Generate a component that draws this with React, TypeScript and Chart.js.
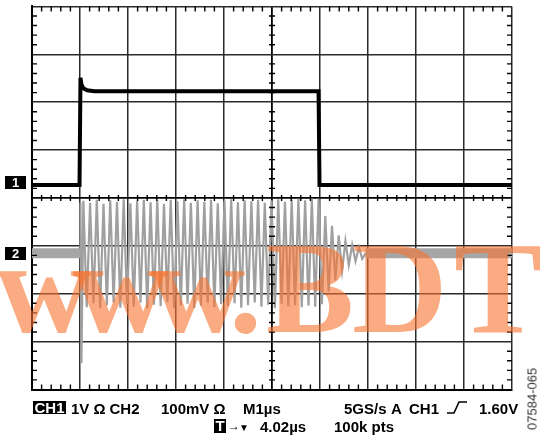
import React, { useEffect, useRef } from "react";
import { Chart, registerables } from "chart.js";

Chart.register(...registerables);

// ---- data (time in µs relative to screen centre, amplitude in divisions) ----
const ch1Times = [-5, -4.01, -3.99, -3.97, -3.93, -3.85, -3.7, 0.97, 0.99, 5];
const ch1Values = [0.27, 0.27, 2.51, 2.37, 2.29, 2.25, 2.23, 2.23, 0.27, 0.27];

const ch2Baseline = -1.155;
const ch2PreTimes = [-5, -4.0];
const ch2PostTimes = [1.95, 5];

const ch2StartTimes = [-4.0, -3.99, -3.97];
const ch2StartValues = [-1.155, -0.1, -3.45];

const ch2HighTimes = [-3.93, -3.79, -3.65, -3.51, -3.37, -3.23, -3.09, -2.95, -2.81, -2.67, -2.53, -2.39, -2.25, -2.11, -1.97, -1.83, -1.69, -1.55, -1.41, -1.27, -1.13, -0.99, -0.85, -0.71, -0.57, -0.43, -0.29, -0.15, -0.01, 0.13, 0.27, 0.41, 0.55, 0.69, 0.83, 0.97];
const ch2HighValues = [-0.06, -0.1, -0.04, -0.12, -0.05, -0.08, -0.03, -0.11, -0.06, -0.04, -0.09, -0.05, -0.12, -0.04, -0.07, -0.03, -0.1, -0.05, -0.08, -0.04, -0.11, -0.06, -0.03, -0.09, -0.05, -0.07, -0.04, -0.1, -0.05, -0.03, -0.08, -0.04, -0.02, -0.05, -0.01, -0.02];
const ch2LowTimes = [-3.86, -3.72, -3.58, -3.44, -3.3, -3.16, -3.02, -2.88, -2.74, -2.6, -2.46, -2.32, -2.18, -2.04, -1.9, -1.76, -1.62, -1.48, -1.34, -1.2, -1.06, -0.92, -0.78, -0.64, -0.5, -0.36, -0.22, -0.08, 0.06, 0.2, 0.34, 0.48, 0.62, 0.76, 0.9];
const ch2LowValues = [-2.28, -2.2, -2.3, -2.24, -2.18, -2.29, -2.22, -2.27, -2.19, -2.31, -2.23, -2.26, -2.17, -2.29, -2.24, -2.21, -2.3, -2.25, -2.19, -2.28, -2.22, -2.26, -2.2, -2.29, -2.24, -2.18, -2.27, -2.23, -2.3, -2.21, -2.26, -2.24, -2.28, -2.25, -2.27];

const ch2RingTimes = [1.04, 1.11, 1.18, 1.25, 1.32, 1.39, 1.46, 1.53, 1.6, 1.67, 1.74, 1.81, 1.88, 1.95];
const ch2RingValues = [-2.22, -0.38, -1.95, -0.58, -1.72, -0.78, -1.52, -0.9, -1.4, -0.98, -1.32, -1.03, -1.27, -1.155];

// graticule: 10 x 8 divisions, 5 minor ticks per division
const xMin = -5;
const xMax = 5;
const yMin = -4;
const yMax = 4;
const minorPerDiv = 5;

const pts = (t: number[], v: number[]) => t.map((x, i) => ({ x, y: v[i] }));

function buildBurst() {
  const mid = [...pts(ch2HighTimes, ch2HighValues), ...pts(ch2LowTimes, ch2LowValues)].sort((a, b) => a.x - b.x);
  return [...pts(ch2StartTimes, ch2StartValues), ...mid, ...pts(ch2RingTimes, ch2RingValues)];
}

function minorSteps(lo: number, hi: number) {
  const out: number[] = [];
  for (let i = lo * minorPerDiv; i <= hi * minorPerDiv; i++) {
    if (i % minorPerDiv !== 0) out.push(i / minorPerDiv);
  }
  return out;
}

function tickSet(data: { x: number; y: number }[], radius: number, rotation: number) {
  return {
    label: "graticule",
    data,
    showLine: false,
    pointStyle: "line",
    pointRadius: radius,
    pointRotation: rotation,
    pointBorderColor: "#000",
    pointBorderWidth: 1.4,
    borderColor: "#000",
    clip: 0,
  };
}

const watermarkPlugin = {
  id: "watermark",
  afterDraw(chart: any) {
    const ctx = chart.ctx;
    const chars = ["w", "w", "w", ".", "B", "D", "T"];
    const xs = [-4, 73, 150, 229, 266, 352, 454];
    ctx.save();
    ctx.font = 'bold 132px "Liberation Serif", "Times New Roman", serif';
    ctx.fillStyle = "rgba(248,115,45,0.6)";
    ctx.textBaseline = "alphabetic";
    chars.forEach((c, i) => ctx.fillText(c, xs[i], 332));
    ctx.restore();
  },
};

const font = '"Liberation Sans", Arial, Helvetica, sans-serif';

function Label({ x, y, children, style }: any) {
  return (
    <div
      style={{
        position: "absolute",
        left: x,
        top: y,
        fontFamily: font,
        fontWeight: "bold",
        fontSize: 15,
        lineHeight: "15px",
        whiteSpace: "nowrap",
        color: "#000",
        ...style,
      }}
    >
      {children}
    </div>
  );
}

export default function App() {
  const ref = useRef<HTMLCanvasElement | null>(null);

  useEffect(() => {
    if (!ref.current) return;
    const mx = minorSteps(xMin, xMax);
    const my = minorSteps(yMin, yMax);
    const gridColor = (c: any) => (c.tick && c.tick.value === 0 ? "#000" : "#2a2a2a");
    const gridWidth = (c: any) => (c.tick && c.tick.value === 0 ? 1.8 : 1.5);
    const chart = new Chart(ref.current, {
      type: "line",
      data: {
        datasets: [
          tickSet(mx.flatMap((x) => [{ x, y: yMax }, { x, y: yMin }]), 5, 90),
          tickSet(my.flatMap((y) => [{ x: xMin, y }, { x: xMax, y }]), 5, 0),
          tickSet(mx.map((x) => ({ x, y: 0 })), 3, 90),
          tickSet(my.map((y) => ({ x: 0, y })), 3, 0),
          { label: "CH1", data: pts(ch1Times, ch1Values), borderColor: "#000", borderWidth: 4, pointRadius: 0, tension: 0 },
          { label: "CH2 burst", data: buildBurst(), borderColor: "#a0a0a0", borderWidth: 2.2, pointRadius: 0, tension: 0 },
          { label: "CH2 pre", data: ch2PreTimes.map((x) => ({ x, y: ch2Baseline })), borderColor: "#a6a6a6", borderWidth: 10, pointRadius: 0 },
          { label: "CH2 post", data: ch2PostTimes.map((x) => ({ x, y: ch2Baseline })), borderColor: "#a6a6a6", borderWidth: 10, pointRadius: 0 },
        ],
      },
      options: {
        animation: false,
        responsive: false,
        maintainAspectRatio: false,
        layout: { padding: { left: 32, right: 28, top: 5.5, bottom: 48.5 } },
        plugins: { legend: { display: false }, tooltip: { enabled: false } },
        scales: {
          x: { type: "linear", min: xMin, max: xMax, ticks: { display: false, stepSize: 1 }, grid: { color: gridColor, lineWidth: gridWidth, drawTicks: false }, border: { color: "#000", width: 2 } },
          y: { type: "linear", min: yMin, max: yMax, ticks: { display: false, stepSize: 1 }, grid: { color: gridColor, lineWidth: gridWidth, drawTicks: false }, border: { color: "#000", width: 2 } },
        },
      },
      plugins: [watermarkPlugin],
    } as any);
    return () => chart.destroy();
  }, []);

  const box = { background: "#000", color: "#fff", padding: "0 1px" };

  return (
    <div style={{ position: "absolute", left: 0, top: 0, width: 540, height: 438, background: "#fff", overflow: "hidden" }}>
      <canvas ref={ref} width={540} height={438} style={{ position: "absolute", left: 0, top: 0, width: 540, height: 438 }} />
      <Label x={5} y={176} style={{ ...box, width: 21, height: 13, lineHeight: "13px", fontSize: 13, textAlign: "center", padding: 0 }}>1</Label>
      <Label x={5} y={246.5} style={{ ...box, width: 21, height: 13, lineHeight: "13px", fontSize: 13, textAlign: "center", padding: 0 }}>2</Label>
      <Label x={33} y={400.5} style={{ ...box, lineHeight: "13px", height: 13, padding: "0 1.5px" }}>CH1</Label>
      <Label x={71} y={400.5}>1V Ω</Label>
      <Label x={109.5} y={400.5}>CH2</Label>
      <Label x={161} y={400.5}>100mV Ω</Label>
      <Label x={243} y={400.5}>M1µs</Label>
      <Label x={344} y={400.5}>5GS/s</Label>
      <Label x={391} y={400.5}>A</Label>
      <Label x={409} y={400.5}>CH1</Label>
      <svg style={{ position: "absolute", left: 446, top: 401 }} width={22} height={13}>
        <polyline points="1,12 8,12 13,1 21,1" fill="none" stroke="#000" strokeWidth={1.6} />
      </svg>
      <Label x={479} y={400.5}>1.60V</Label>
      <Label x={214} y={418.5} style={{ ...box, lineHeight: "14px", height: 14, padding: "0 1.5px" }}>T</Label>
      <Label x={228} y={418.5} style={{ fontSize: 12 }}>→</Label>
      <Label x={239} y={419.5} style={{ fontSize: 10 }}>▼</Label>
      <Label x={260} y={418.5}>4.02µs</Label>
      <Label x={334} y={418.5}>100k pts</Label>
      <div style={{ position: "absolute", left: 532, top: 399, transform: "translate(-50%, -50%) rotate(-90deg)", fontFamily: font, fontSize: 13, color: "#333", whiteSpace: "nowrap" }}>
        07584-065
      </div>
    </div>
  );
}
